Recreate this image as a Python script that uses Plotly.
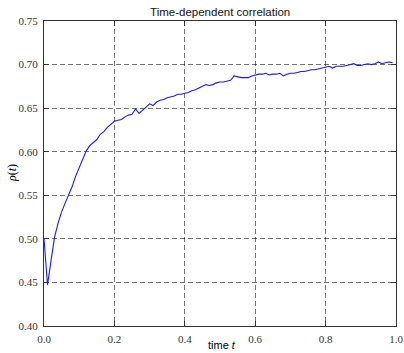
import plotly.graph_objects as go

# Sampled time grid and measured correlation rho(t)
time_t = [round(0.01 * i, 2) for i in range(100)]
rho = [
    0.500, 0.447, 0.475, 0.502, 0.518, 0.531, 0.541, 0.550, 0.560, 0.572,
    0.582, 0.592, 0.601, 0.607, 0.611, 0.614, 0.620, 0.623, 0.628, 0.631,
    0.635, 0.636, 0.637, 0.640, 0.642, 0.643, 0.649, 0.644, 0.648, 0.651,
    0.655, 0.653, 0.657, 0.659, 0.660, 0.662, 0.663, 0.664, 0.666, 0.666,
    0.667, 0.668, 0.670, 0.671, 0.673, 0.675, 0.677, 0.676, 0.677, 0.679,
    0.680, 0.680, 0.681, 0.682, 0.687, 0.686, 0.685, 0.685, 0.685, 0.687,
    0.688, 0.689, 0.689, 0.690, 0.688, 0.689, 0.689, 0.690, 0.687, 0.689,
    0.690, 0.690, 0.691, 0.692, 0.692, 0.693, 0.694, 0.694, 0.695, 0.696,
    0.697, 0.698, 0.696, 0.698, 0.698, 0.698, 0.699, 0.700, 0.701, 0.699,
    0.699, 0.700, 0.701, 0.700, 0.701, 0.703, 0.701, 0.702, 0.703, 0.702,
]

x_ticks = [0.0, 0.2, 0.4, 0.6, 0.8, 1.0]
y_ticks = [0.40, 0.45, 0.50, 0.55, 0.60, 0.65, 0.70, 0.75]

serif = "Liberation Serif"
sans = "Liberation Sans"
tick_font = dict(family=serif, size=11, color="#333")
grid_style = dict(showgrid=True, gridcolor="rgba(0,0,0,0.55)", gridwidth=1, griddash="5px,3px")
axis_style = dict(
    showline=True, linecolor="#333", linewidth=1.2, mirror="ticks",
    ticks="inside", ticklen=5, tickcolor="#333", tickfont=tick_font,
    zeroline=False, automargin=False, **grid_style,
)

fig = go.Figure()
fig.add_trace(go.Scatter(x=time_t, y=rho, mode="lines",
                         line=dict(color="#1a1aff", width=1.1), showlegend=False))

fig.update_layout(
    width=404, height=353,
    margin=dict(l=44, r=8, t=21, b=27),
    paper_bgcolor="white", plot_bgcolor="white",
    title=dict(text="Time-dependent correlation", x=0.545, xanchor="center",
               y=1 - 12 / 353, yanchor="middle",
               font=dict(family=sans, size=11.5, color="#111", weight="normal")),
    xaxis=dict(range=[0, 1], tickvals=x_ticks, tickformat=".1f", ticklabelstandoff=3, **axis_style),
    yaxis=dict(range=[0.40, 0.75], tickvals=y_ticks, tickformat=".2f", ticklabelstandoff=3, **axis_style),
)

fig.add_annotation(text="time <i>t</i>", xref="paper", yref="paper", x=0.506, y=-0.062,
                   xanchor="center", yanchor="middle", showarrow=False,
                   font=dict(family=sans, size=11, color="black"))
fig.add_annotation(text="<i>ρ</i>(<i>t</i>)", xref="paper", yref="paper", x=-0.092, y=0.5,
                   xanchor="center", yanchor="middle", textangle=-90, showarrow=False,
                   font=dict(family=serif, size=12, color="black"))

fig.write_html("out.html")
